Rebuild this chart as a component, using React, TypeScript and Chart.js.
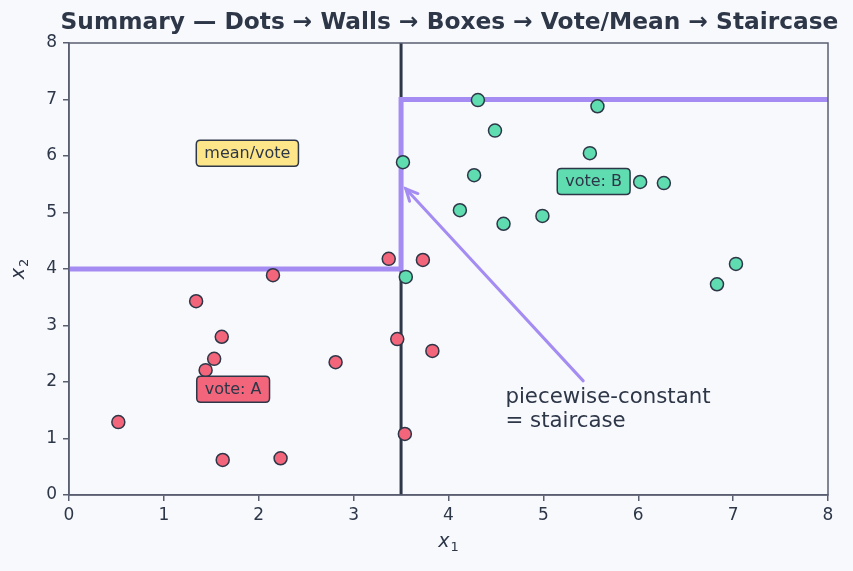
import React, { useEffect, useRef } from "react";
import { Chart, registerables } from "chart.js";

Chart.register(...registerables);

const classAX = [0.52, 1.34, 1.61, 1.53, 1.44, 1.62, 2.23, 2.15, 2.81, 3.37, 3.46, 3.73, 3.83, 3.54];
const classAY = [1.29, 3.43, 2.80, 2.41, 2.21, 0.62, 0.65, 3.89, 2.35, 4.18, 2.76, 4.16, 2.55, 1.08];
const classBX = [4.31, 5.57, 4.49, 5.49, 3.52, 4.27, 6.02, 6.27, 4.12, 4.58, 4.99, 7.03, 6.83, 3.55];
const classBY = [6.99, 6.88, 6.45, 6.05, 5.89, 5.66, 5.54, 5.52, 5.04, 4.80, 4.94, 4.09, 3.73, 3.86];
const stairX = [0, 3.5, 3.5, 8];
const stairY = [4, 4, 7, 7];
const splitX = 3.5;
const xTicks = [0, 1, 2, 3, 4, 5, 6, 7, 8];
const yTicks = [0, 1, 2, 3, 4, 5, 6, 7, 8];
const titleText = "Summary — Dots → Walls → Boxes → Vote/Mean → Staircase";
const labelTexts = ["mean/vote", "vote: A", "vote: B"];
const labelX = [1.88, 1.73, 5.53];
const labelY = [6.05, 1.87, 5.55];
const noteLines = ["piecewise-constant", "= staircase"];
const noteX = 4.6;
const noteY = 1.72;
const arrowFrom = [5.42, 2.02];
const arrowTo = [3.55, 5.42];

const BG = "#f8f9fd";
const INK = "#2d3748";
const AXIS = "#5a5f70";
const RED = "#f2657a";
const GREEN = "#5fdcb0";
const YELLOW = "#fde68a";
const PURPLE = "#a48cf2";
const FONT = "'DejaVu Sans', sans-serif";

function roundRect(ctx: CanvasRenderingContext2D, x: number, y: number, w: number, h: number, r: number) {
  ctx.beginPath();
  ctx.moveTo(x + r, y);
  ctx.lineTo(x + w - r, y);
  ctx.quadraticCurveTo(x + w, y, x + w, y + r);
  ctx.lineTo(x + w, y + h - r);
  ctx.quadraticCurveTo(x + w, y + h, x + w - r, y + h);
  ctx.lineTo(x + r, y + h);
  ctx.quadraticCurveTo(x, y + h, x, y + h - r);
  ctx.lineTo(x, y + r);
  ctx.quadraticCurveTo(x, y, x + r, y);
  ctx.closePath();
}

function drawSubLabel(ctx: CanvasRenderingContext2D, base: string, sub: string, cx: number, cy: number) {
  ctx.font = `italic 19px ${FONT}`;
  const wb = ctx.measureText(base).width;
  ctx.font = `13px ${FONT}`;
  const ws = ctx.measureText(sub).width;
  const total = wb + ws + 1;
  const sx = cx - total / 2;
  ctx.textAlign = "left";
  ctx.textBaseline = "alphabetic";
  ctx.fillStyle = INK;
  ctx.font = `italic 19px ${FONT}`;
  ctx.fillText(base, sx, cy + 5);
  ctx.font = `13px ${FONT}`;
  ctx.fillText(sub, sx + wb + 1, cy + 9);
}

const decorPlugin = {
  id: "decor",
  beforeDraw(chart: any) {
    const ctx = chart.ctx as CanvasRenderingContext2D;
    ctx.save();
    ctx.fillStyle = BG;
    ctx.fillRect(0, 0, chart.width, chart.height);
    ctx.restore();
  },
  beforeDatasetsDraw(chart: any) {
    const ctx = chart.ctx as CanvasRenderingContext2D;
    const xs = chart.scales.x;
    const a = chart.chartArea;
    ctx.save();
    const px = xs.getPixelForValue(splitX);
    ctx.strokeStyle = INK;
    ctx.lineWidth = 3;
    ctx.beginPath();
    ctx.moveTo(px, a.top);
    ctx.lineTo(px, a.bottom);
    ctx.stroke();
    ctx.restore();
  },
  afterDatasetsDraw(chart: any) {
    const ctx = chart.ctx as CanvasRenderingContext2D;
    const xs = chart.scales.x;
    const ys = chart.scales.y;
    const a = chart.chartArea;
    ctx.save();
    ctx.strokeStyle = AXIS;
    ctx.lineWidth = 1.5;
    ctx.strokeRect(a.left, a.top, a.right - a.left, a.bottom - a.top);

    // title
    ctx.fillStyle = INK;
    ctx.font = `bold 23.3px ${FONT}`;
    ctx.textAlign = "center";
    ctx.textBaseline = "middle";
    ctx.fillText(titleText, (a.left + a.right) / 2 + 1, 23);

    // axis titles
    drawSubLabel(ctx, "x", "1", (a.left + a.right) / 2, 542);
    ctx.save();
    ctx.translate(22, (a.top + a.bottom) / 2);
    ctx.rotate(-Math.PI / 2);
    drawSubLabel(ctx, "x", "2", 0, -3);
    ctx.restore();

    // label boxes
    const fills = [YELLOW, RED, GREEN];
    ctx.font = `16px ${FONT}`;
    for (let i = 0; i < labelTexts.length; i++) {
      const cx = xs.getPixelForValue(labelX[i]);
      const cy = ys.getPixelForValue(labelY[i]);
      const w = ctx.measureText(labelTexts[i]).width + 16;
      const h = 26;
      roundRect(ctx, cx - w / 2, cy - h / 2, w, h, 4);
      ctx.fillStyle = fills[i];
      ctx.fill();
      ctx.strokeStyle = INK;
      ctx.lineWidth = 1.5;
      ctx.stroke();
      ctx.fillStyle = INK;
      ctx.textAlign = "center";
      ctx.textBaseline = "middle";
      ctx.fillText(labelTexts[i], cx, cy + 0.5);
    }

    // arrow
    const x0 = xs.getPixelForValue(arrowFrom[0]);
    const y0 = ys.getPixelForValue(arrowFrom[1]);
    const x1 = xs.getPixelForValue(arrowTo[0]);
    const y1 = ys.getPixelForValue(arrowTo[1]);
    ctx.strokeStyle = PURPLE;
    ctx.lineWidth = 3;
    ctx.lineCap = "round";
    ctx.beginPath();
    ctx.moveTo(x0, y0);
    ctx.lineTo(x1, y1);
    ctx.stroke();
    const ang = Math.atan2(y1 - y0, x1 - x0);
    const hl = 13;
    ctx.beginPath();
    ctx.moveTo(x1 - hl * Math.cos(ang - 0.45), y1 - hl * Math.sin(ang - 0.45));
    ctx.lineTo(x1, y1);
    ctx.lineTo(x1 - hl * Math.cos(ang + 0.45), y1 - hl * Math.sin(ang + 0.45));
    ctx.stroke();

    // note text
    ctx.fillStyle = INK;
    ctx.font = `21.3px ${FONT}`;
    ctx.textAlign = "left";
    ctx.textBaseline = "middle";
    const nx = xs.getPixelForValue(noteX);
    const ny = ys.getPixelForValue(noteY);
    noteLines.forEach((t, i) => ctx.fillText(t, nx, ny + i * 24));
    ctx.restore();
  },
};

export default function App() {
  const ref = useRef<HTMLCanvasElement>(null);
  useEffect(() => {
    document.body.style.margin = "0";
    document.body.style.background = BG;
    const pts = (xs: number[], ys: number[]) => xs.map((x, i) => ({ x, y: ys[i] }));
    const chart = new Chart(ref.current!, {
      type: "scatter",
      data: {
        datasets: [
          {
            type: "line",
            data: pts(stairX, stairY),
            borderColor: PURPLE,
            borderWidth: 5,
            pointRadius: 0,
            fill: false,
            tension: 0,
            order: 3,
          } as any,
          {
            data: pts(classAX, classAY),
            backgroundColor: RED,
            borderColor: INK,
            borderWidth: 1.5,
            pointRadius: 6.5,
            order: 2,
          },
          {
            data: pts(classBX, classBY),
            backgroundColor: GREEN,
            borderColor: INK,
            borderWidth: 1.5,
            pointRadius: 6.5,
            order: 1,
          },
        ],
      },
      options: {
        animation: false,
        responsive: false,
        maintainAspectRatio: false,
        layout: { padding: { top: 43, right: 25, left: 0, bottom: 0 } },
        plugins: { legend: { display: false }, tooltip: { enabled: false }, title: { display: false } },
        scales: {
          x: {
            type: "linear",
            min: 0,
            max: 8,
            afterFit: (s: any) => { s.height = 76; },
            afterBuildTicks: (s: any) => { s.ticks = xTicks.map((v) => ({ value: v })); },
            grid: { drawOnChartArea: false, drawTicks: true, tickLength: 6, color: AXIS, lineWidth: 1.5 },
            border: { display: true, color: AXIS, width: 1.5 },
            ticks: { color: INK, font: { family: FONT, size: 17 }, padding: 4 },
          },
          y: {
            type: "linear",
            min: 0,
            max: 8,
            afterFit: (s: any) => { s.width = 69; },
            afterBuildTicks: (s: any) => { s.ticks = yTicks.map((v) => ({ value: v })); },
            grid: { drawOnChartArea: false, drawTicks: true, tickLength: 6, color: AXIS, lineWidth: 1.5 },
            border: { display: true, color: AXIS, width: 1.5 },
            ticks: { color: INK, font: { family: FONT, size: 17 }, padding: 6 },
          },
        },
      },
      plugins: [decorPlugin],
    });
    return () => chart.destroy();
  }, []);
  return <canvas ref={ref} width={853} height={571} style={{ display: "block" }} />;
}
